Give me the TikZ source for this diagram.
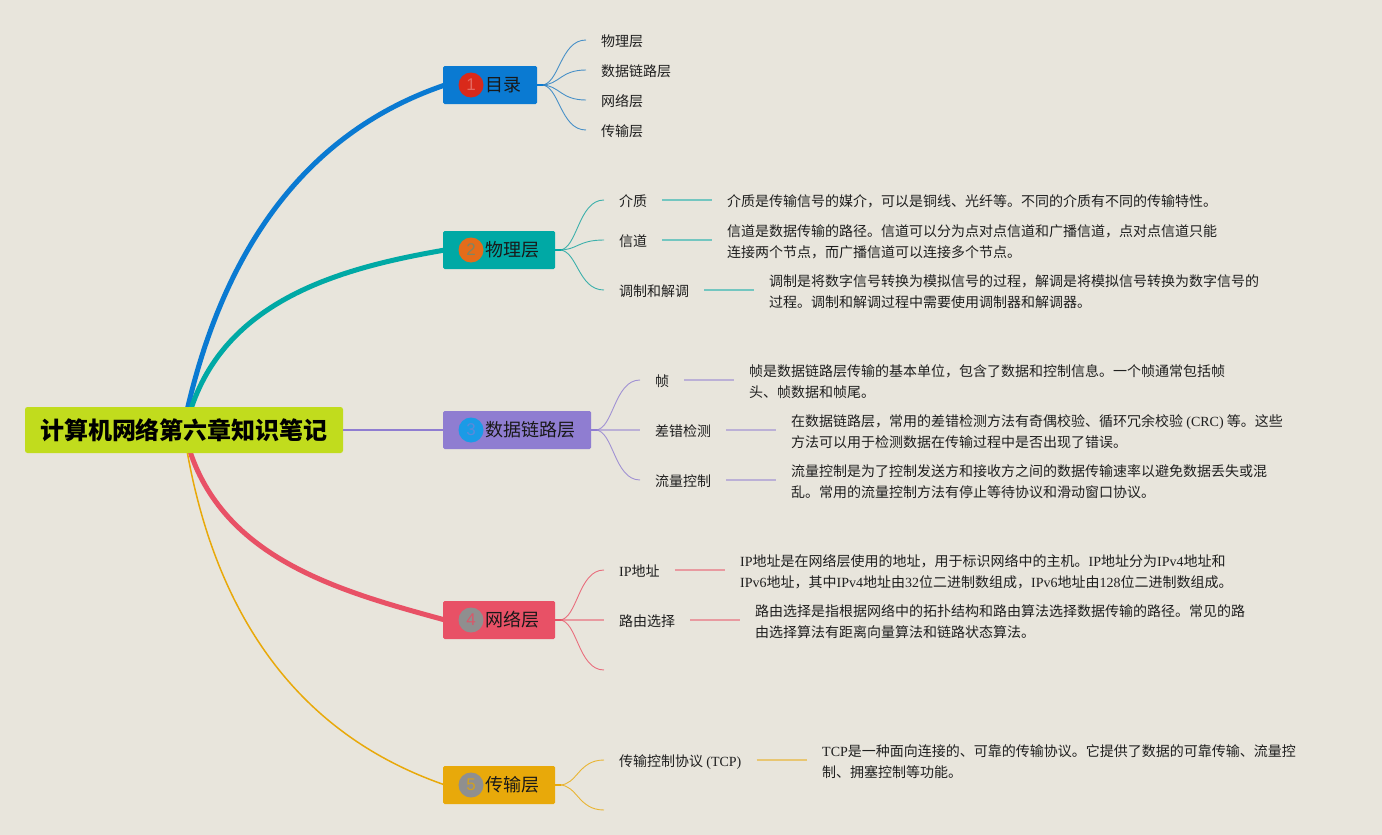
\documentclass[tikz,border=0pt]{standalone}
\usepackage{fontspec}
\setmainfont{Noto Sans CJK SC}
\newfontfamily\latf{Liberation Serif}
\newfontfamily\numf{Liberation Sans}
\newcommand{\lat}[1]{{\latf #1}}
\definecolor{bgc}{HTML}{E8E5DC}
\definecolor{cblue}{HTML}{0A7AD2}
\definecolor{cteal}{HTML}{00A9A5}
\definecolor{cpurp}{HTML}{8F7DD1}
\definecolor{cred}{HTML}{E85166}
\definecolor{cyel}{HTML}{E8A90A}
\definecolor{croot}{HTML}{C1DC1D}
\definecolor{bone}{HTML}{D9291A}
\definecolor{btwo}{HTML}{E46C1A}
\definecolor{bthree}{HTML}{1A9BE6}
\definecolor{bgray}{HTML}{8F8F8F}
\tikzset{
  x=1pt,y=-1pt,
  rootbox/.style={draw=none,fill=croot,rounded corners=2.5pt,minimum width=318pt,minimum height=46pt,inner sep=0pt,
    font=\fontsize{24}{26}\selectfont\bfseries,text=black},
  topbox/.style={draw=none,rounded corners=1.5pt,anchor=west,minimum height=38pt,inner xsep=16pt,inner ysep=0pt,
    font=\fontsize{18}{22}\selectfont,text=black!90},
  badge/.style={circle,minimum size=25pt,inner sep=0pt,font=\numf\fontsize{17}{20}\selectfont},
  leaf/.style={anchor=west,inner xsep=15pt,inner ysep=0pt,font=\fontsize{14}{21}\selectfont,text=black!88,text height=12.5pt,text depth=.5pt},
  desc/.style={anchor=west,inner xsep=15pt,inner ysep=0pt,align=left,font=\fontsize{14}{21}\selectfont,text=black!88},
  thin link/.style={line width=.9pt,opacity=.8},
  link/.style={line width=1.7pt,opacity=.5},
  stub/.style={line width=2pt},
}
\newcommand{\curveto}[3]{\draw[thin link,#1] (#2) -- ++(4,0) .. controls +(18,0) and +(-26,0) .. (#3);}
\begin{document}
\begin{tikzpicture}
\useasboundingbox[fill=bgc] (0,0) rectangle (1382,835);
\coordinate (rb) at (186,415);
\coordinate (rt) at (190,412);
\coordinate (rr) at (188,445);
\coordinate (ry) at (186,445);
\coordinate (bs) at (445,85);
\coordinate (ts) at (445,250);
\coordinate (rs) at (445,620);
\coordinate (ys) at (445,785);
\draw[cblue,line width=5pt] (rb) .. controls (231,215) and (333,123) .. (bs);
\draw[cteal,line width=5pt] (rt) .. controls (225,300) and (340,268) .. (ts);
\draw[cred,line width=5pt] (rr) .. controls (222,560) and (343,592) .. (rs);
\draw[cyel,line width=1.5pt] (ry) .. controls (225,675) and (353,753) .. (ys);

\node[rootbox] (root) at (184,430) {\raisebox{-4pt}{计算机网络第六章知识笔记}};

\node[topbox,fill=cblue] (t1) at (443,85) {\hspace*{26pt}\raisebox{-2pt}{目录}};
\node[topbox,fill=cteal] (t2) at (443,250) {\hspace*{26pt}\raisebox{-2pt}{物理层}};
\node[topbox,fill=cpurp] (t3) at (443,430) {\hspace*{26pt}\raisebox{-2pt}{数据链路层}};
\node[topbox,fill=cred] (t4) at (443,620) {\hspace*{26pt}\raisebox{-2pt}{网络层}};
\node[topbox,fill=cyel] (t5) at (443,785) {\hspace*{26pt}\raisebox{-2pt}{传输层}};
\draw[cpurp,line width=1.8pt] (root.east) -- (t3.west);

\node[badge,fill=bone,text=bone!70!white] (b1) at (471,85) {1};
\node[badge,fill=btwo,text=cteal!45!btwo!70!gray] (b2) at (471,250) {2};
\node[badge,fill=bthree,text=cpurp!55!bthree] (b3) at (471,430) {3};
\node[badge,fill=bgray,text=cred!85!gray] (b4) at (471,620) {4};
\node[badge,fill=bgray,text=cyel!75!gray] (b5) at (471,785) {5};

\node[leaf] (a1) at (586,40) {物理层};
\node[leaf] (a2) at (586,70) {数据链路层};
\node[leaf] (a3) at (586,100) {网络层};
\node[leaf] (a4) at (586,130) {传输层};
\foreach \n in {a1,a2,a3,a4} {\curveto{cblue!80!gray}{t1.east}{\n.west}}
\draw[stub,cblue] (t1.east) -- ++(6,0);

\node[leaf] (p1) at (604,200) {介质};
\node[leaf] (p2) at (604,240) {信道};
\node[leaf] (p3) at (604,290) {调制和解调};
\node[desc] (pd1) at (712,201) {介质是传输信号的媒介，可以是铜线、光纤等。不同的介质有不同的传输特性。};
\node[desc] (pd2) at (712,242) {信道是数据传输的路径。信道可以分为点对点信道和广播信道，点对点信道只能\\连接两个节点，而广播信道可以连接多个节点。};
\node[desc] (pd3) at (754,292) {调制是将数字信号转换为模拟信号的过程，解调是将模拟信号转换为数字信号的\\过程。调制和解调过程中需要使用调制器和解调器。};
\foreach \n in {p1,p2,p3} {\curveto{cteal!85!gray}{t2.east}{\n.west}}
\draw[stub,cteal] (t2.east) -- ++(6,0);
\draw[link,cteal] (p1.east) -- (p1.east -| pd1.west);
\draw[link,cteal] (p2.east) -- (p2.east -| pd2.west);
\draw[link,cteal] (p3.east) -- (p3.east -| pd3.west);

\node[leaf] (d1) at (640,380) {帧};
\node[leaf] (d2) at (640,430) {差错检测};
\node[leaf] (d3) at (640,480) {流量控制};
\node[desc] (dd1) at (734,382) {帧是数据链路层传输的基本单位，包含了数据和控制信息。一个帧通常包括帧\\头、帧数据和帧尾。};
\node[desc] (dd2) at (776,432) {在数据链路层，常用的差错检测方法有奇偶校验、循环冗余校验 \lat{(CRC)} 等。这些\\方法可以用于检测数据在传输过程中是否出现了错误。};
\node[desc] (dd3) at (776,482) {流量控制是为了控制发送方和接收方之间的数据传输速率以避免数据丢失或混\\乱。常用的流量控制方法有停止等待协议和滑动窗口协议。};
\curveto{cpurp}{t3.east}{d1.west}
\draw[link,cpurp] (t3.east) -- (d2.west);
\curveto{cpurp}{t3.east}{d3.west}
\draw[stub,cpurp] (t3.east) -- ++(6,0);
\draw[link,cpurp] (d1.east) -- (d1.east -| dd1.west);
\draw[link,cpurp] (d2.east) -- (d2.east -| dd2.west);
\draw[link,cpurp] (d3.east) -- (d3.east -| dd3.west);

\node[leaf] (n1) at (604,570) {\lat{IP}地址};
\node[leaf] (n2) at (604,620) {路由选择};
\coordinate (n3) at (604,670);
\node[desc] (nd1) at (725,572) {\lat{IP}地址是在网络层使用的地址，用于标识网络中的主机。\lat{IP}地址分为\lat{IPv4}地址和\\\lat{IPv6}地址，其中\lat{IPv4}地址由\lat{32}位二进制数组成，\lat{IPv6}地址由\lat{128}位二进制数组成。};
\node[desc] (nd2) at (740,622) {路由选择是指根据网络中的拓扑结构和路由算法选择数据传输的路径。常见的路\\由选择算法有距离向量算法和链路状态算法。};
\curveto{cred}{t4.east}{n1.west}
\draw[link,cred] (t4.east) -- (n2.west);
\curveto{cred}{t4.east}{n3}
\draw[stub,cred] (t4.east) -- ++(6,0);
\draw[link,cred] (n1.east) -- (n1.east -| nd1.west);
\draw[link,cred] (n2.east) -- (n2.east -| nd2.west);

\node[leaf] (c1) at (604,760) {传输控制协议 \lat{(TCP)}};
\coordinate (c2) at (604,810);
\node[desc] (cd1) at (807,762) {\lat{TCP}是一种面向连接的、可靠的传输协议。它提供了数据的可靠传输、流量控\\制、拥塞控制等功能。};
\foreach \n in {c1.west,c2} {\curveto{cyel}{t5.east}{\n}}
\draw[stub,cyel] (t5.east) -- ++(6,0);
\draw[link,cyel] (c1.east) -- (c1.east -| cd1.west);
\end{tikzpicture}
\end{document}
